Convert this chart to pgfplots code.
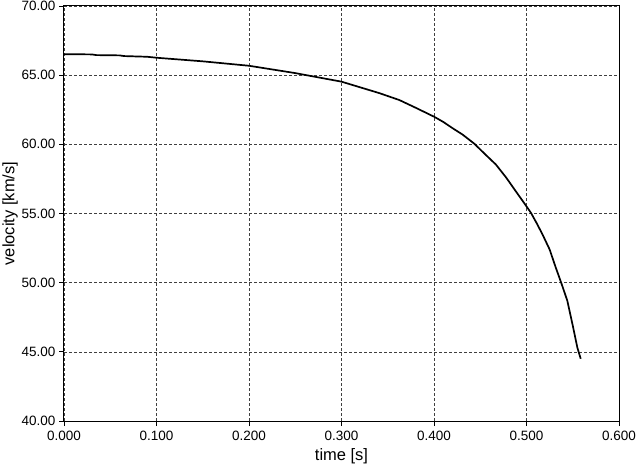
\documentclass[border=0pt]{standalone}
\usepackage{pgfplots}
\pgfplotsset{compat=1.18}
\usetikzlibrary{calc}
\usepackage{fontspec}
\setmainfont{Liberation Sans}
\begin{document}
\begin{tikzpicture}
\begin{axis}[
  scale only axis,
  width=555pt,
  height=415pt,
  xmin=0, xmax=0.6,
  ymin=40, ymax=70,
  xtick={0,0.1,...,0.6},
  ytick={40,45,...,70},
  xlabel={time [s]},
  ylabel={velocity [km/s]},
  /pgf/number format/assume math mode=true,
  x tick label style={yshift=-2pt, /pgf/number format/.cd, fixed, fixed zerofill, precision=3},
  y tick label style={/pgf/number format/.cd, fixed, fixed zerofill, precision=2},
  tick label style={font=\fontsize{13.5}{15}\selectfont},
  label style={font=\fontsize{16.5}{18}\selectfont},
  xlabel style={yshift=-1pt},
  ylabel style={yshift=-3pt},
  tick align=outside,
  major tick length=5pt,
  xtick pos=bottom, ytick pos=left,
  grid=major,
  grid style={black!75, densely dashed, line width=0.6pt},
  axis line style={black, line width=1pt},
  tick style={black, line width=0.8pt},
]
\addplot[black, line width=1.7pt] coordinates {
(0.000,66.52) (0.030,66.50) (0.035,66.45) (0.060,66.43) (0.065,66.38)
(0.090,66.33) (0.100,66.26) (0.150,66.00) (0.200,65.68) (0.250,65.15)
(0.262,65.00) (0.300,64.53) (0.341,63.70) (0.3626,63.20) (0.380,62.65)
(0.400,62.00) (0.410,61.62) (0.420,61.17) (0.431,60.70) (0.4435,60.05)
(0.455,59.30) (0.4669,58.54) (0.478,57.60) (0.4885,56.60) (0.4970,55.80)
(0.5047,55.06) (0.5110,54.30) (0.5172,53.50) (0.5250,52.40) (0.5316,51.10)
(0.5380,49.90) (0.5441,48.70) (0.5500,46.90) (0.5550,45.30) (0.5586,44.50)
};
\end{axis}
\pgfresetboundingbox
\useasboundingbox ($(current axis.south west)+(-64pt,-45pt)$) rectangle ($(current axis.north east)+(19pt,6pt)$);
\end{tikzpicture}
\end{document}
